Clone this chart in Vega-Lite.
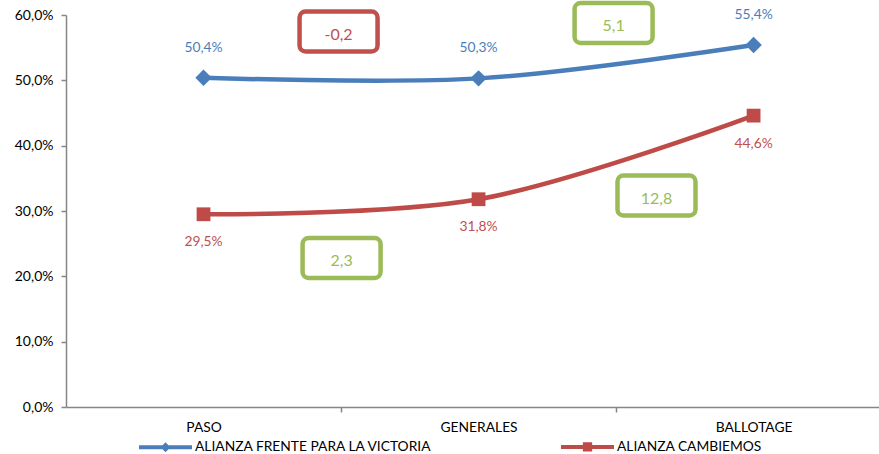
{
  "$schema": "https://vega.github.io/schema/vega-lite/v6.json",
  "width": 813,
  "height": 392,
  "autosize": {"type": "none"},
  "padding": {"left": 66, "top": 15, "right": 0, "bottom": 47},
  "config": {
    "locale": {"number": {"decimal": ",", "thousands": ".", "grouping": [3], "currency": ["", " €"], "minus": "-"}},
    "view": {"stroke": null},
    "font": "Lato",
    "axis": {"grid": false, "title": null}
  },
  "datasets": {
    "series": [
      {"etapa": "PASO", "serie": "ALIANZA FRENTE PARA LA VICTORIA", "v": 0.504},
      {"etapa": "GENERALES", "serie": "ALIANZA FRENTE PARA LA VICTORIA", "v": 0.503},
      {"etapa": "BALLOTAGE", "serie": "ALIANZA FRENTE PARA LA VICTORIA", "v": 0.554},
      {"etapa": "PASO", "serie": "ALIANZA CAMBIEMOS", "v": 0.295},
      {"etapa": "GENERALES", "serie": "ALIANZA CAMBIEMOS", "v": 0.318},
      {"etapa": "BALLOTAGE", "serie": "ALIANZA CAMBIEMOS", "v": 0.446}
    ],
    "cambios": [
      {"cambio": -0.2, "i": 0.491, "v": 0.5747},
      {"cambio": 5.1, "i": 1.491, "v": 0.5878},
      {"cambio": 12.8, "i": 1.647, "v": 0.3237},
      {"cambio": 2.3, "i": 0.502, "v": 0.2281}
    ]
  },
  "encoding": {
    "x": {"field": "i", "type": "quantitative",
      "scale": {"domain": [-0.5, 2.456], "nice": false, "zero": false},
      "axis": {"values": [0, 1, 2], "labelExpr": "['PASO','GENERALES','BALLOTAGE'][datum.value]",
        "tickOffset": 137.5, "labelOffset": -137.5, "tickSize": 5, "tickColor": "#868686", "tickWidth": 1.5,
        "domainColor": "#868686", "domainWidth": 1.5, "labelFontSize": 13.8,
        "labelColor": "#000000", "labelPadding": 8, "labelFlush": false, "labelOverlap": false, "title": null}},
    "y": {"field": "v", "type": "quantitative",
      "scale": {"domain": [0, 0.6], "nice": false},
      "axis": {"values": [0, 0.1, 0.2, 0.3, 0.4, 0.5, 0.6], "format": ".1%", "tickSize": 5,
        "tickColor": "#868686", "domainColor": "#868686", "domainWidth": 1.5, "tickWidth": 1.5,
        "labelFontSize": 14, "labelColor": "#000000", "labelPadding": 8, "title": null}}
  },
  "layer": [
    {
      "data": {"name": "series"},
      "transform": [
        {"filter": "false"},
        {"calculate": "indexof(['PASO','GENERALES','BALLOTAGE'], datum.etapa)", "as": "i"}
      ],
      "mark": {"type": "point", "filled": false, "opacity": 1, "strokeWidth": 4},
      "encoding": {
        "color": {"field": "serie", "type": "nominal",
          "scale": {"domain": ["ALIANZA FRENTE PARA LA VICTORIA", "ALIANZA CAMBIEMOS"], "range": ["#4A7EBB", "#BE4B48"]},
          "legend": {"orient": "none", "legendX": 71, "legendY": 403, "direction": "horizontal", "title": null,
            "symbolSize": 2809, "symbolStrokeWidth": 4, "symbolOpacity": 1, "labelFont": "Lato", "labelFontSize": 13.8,
            "labelColor": "#000000", "labelOffset": 1, "columnPadding": 120, "labelLimit": 400}},
        "shape": {"field": "serie", "type": "nominal",
          "scale": {"domain": ["ALIANZA FRENTE PARA LA VICTORIA", "ALIANZA CAMBIEMOS"],
            "range": ["M-1,0L1,0M0,-0.08L0.08,0L0,0.08L-0.08,0Z", "M-1,0L1,0M-0.1,-0.1L0.1,-0.1L0.1,0.1L-0.1,0.1Z"]},
          "legend": {"orient": "none", "legendX": 71, "legendY": 403, "direction": "horizontal", "title": null,
            "symbolSize": 2809, "symbolStrokeWidth": 4, "symbolOpacity": 1, "labelFont": "Lato", "labelFontSize": 13.8,
            "labelColor": "#000000", "labelOffset": 1, "columnPadding": 120, "labelLimit": 400}}
      }
    },
    {
      "data": {"name": "series"},
      "transform": [{"calculate": "indexof(['PASO','GENERALES','BALLOTAGE'], datum.etapa)", "as": "i"}],
      "mark": {"type": "line", "interpolate": "catmull-rom", "strokeWidth": 4.5},
      "encoding": {
        "stroke": {"field": "serie", "type": "nominal",
          "scale": {"domain": ["ALIANZA FRENTE PARA LA VICTORIA", "ALIANZA CAMBIEMOS"], "range": ["#4A7EBB", "#BE4B48"]},
          "legend": null}
      }
    },
    {
      "data": {"name": "series"},
      "transform": [
        {"filter": "datum.serie === 'ALIANZA FRENTE PARA LA VICTORIA'"},
        {"calculate": "indexof(['PASO','GENERALES','BALLOTAGE'], datum.etapa)", "as": "i"}
      ],
      "mark": {"type": "point", "filled": true, "opacity": 1, "shape": "diamond", "size": 270, "color": "#4A7EBB"}
    },
    {
      "data": {"name": "series"},
      "transform": [
        {"filter": "datum.serie === 'ALIANZA CAMBIEMOS'"},
        {"calculate": "indexof(['PASO','GENERALES','BALLOTAGE'], datum.etapa)", "as": "i"}
      ],
      "mark": {"type": "point", "filled": true, "opacity": 1, "shape": "square", "size": 190, "color": "#BE4B48"}
    },
    {
      "data": {"name": "series"},
      "transform": [
        {"filter": "datum.serie === 'ALIANZA FRENTE PARA LA VICTORIA'"},
        {"calculate": "indexof(['PASO','GENERALES','BALLOTAGE'], datum.etapa)", "as": "i"}
      ],
      "mark": {"type": "text", "dy": -30, "fontSize": 13.8, "color": "#4A7EBB"},
      "encoding": {"text": {"field": "v", "type": "quantitative", "format": ".1%"}}
    },
    {
      "data": {"name": "series"},
      "transform": [
        {"filter": "datum.serie === 'ALIANZA CAMBIEMOS'"},
        {"calculate": "indexof(['PASO','GENERALES','BALLOTAGE'], datum.etapa)", "as": "i"}
      ],
      "mark": {"type": "text", "dy": 28, "fontSize": 13.8, "color": "#C0504D"},
      "encoding": {"text": {"field": "v", "type": "quantitative", "format": ".1%"}}
    },
    {
      "data": {"name": "cambios"},
      "mark": {"type": "rect", "width": 78, "height": 40, "cornerRadius": 6, "fill": "#ffffff", "strokeWidth": 4.5},
      "encoding": {
        "stroke": {"condition": {"test": "datum.cambio < 0", "value": "#C0504D"}, "value": "#9BBB59"}
      }
    },
    {
      "data": {"name": "cambios"},
      "mark": {"type": "text", "fontSize": 16, "dy": 3},
      "encoding": {
        "text": {"field": "cambio", "type": "quantitative", "format": ".1f"},
        "color": {"condition": {"test": "datum.cambio < 0", "value": "#C0504D"}, "value": "#9BBB59"}
      }
    }
  ]
}
